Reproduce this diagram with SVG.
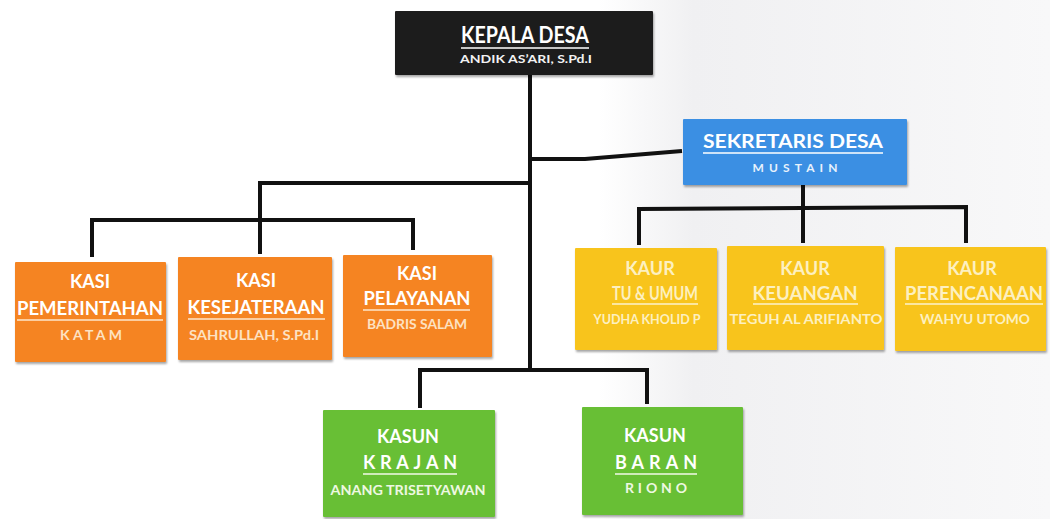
<svg xmlns="http://www.w3.org/2000/svg" width="1050" height="519" viewBox="0 0 1050 519">
<defs>
<filter id="sh" x="-5%" y="-5%" width="115%" height="120%">
<feDropShadow dx="1" dy="2" stdDeviation="1.2" flood-color="#000" flood-opacity="0.35"/>
</filter>
<linearGradient id="bg" x1="0" y1="0" x2="1" y2="0">
<stop offset="0" stop-color="#ffffff"/>
<stop offset="0.57" stop-color="#ffffff"/>
<stop offset="0.66" stop-color="#f0f0f2"/>
<stop offset="1" stop-color="#f8f8f9"/>
</linearGradient>
</defs>
<style>
text{font-family:Lato,"Liberation Sans",sans-serif;font-weight:bold;text-anchor:middle;}
.h1{font-size:22px;fill:#ffffff;}
.h2{font-size:19px;fill:#ffffff;}
.t{font-size:18px;fill:#ffffff;}
.s{font-size:12px;}
.m{font-size:14px;}
.ul{stroke-width:1.6;}
.conn{fill:none;stroke:#111;stroke-width:4;stroke-linejoin:miter;stroke-linecap:butt;}
.box{filter:url(#sh);}
.or{fill:#f58424;}
.ye{fill:#f8c41c;}
.gr{fill:#67bf34;}
.os{fill:#fde2c2;}
.ys{fill:#fdf0c0;}
.gs{fill:#eef8e2;}
.ow{stroke:#fde7cc;}
.yw{stroke:#fdf3cc;}
.gw{stroke:#f2fae8;}
</style>
<rect x="0" y="0" width="1050" height="519" fill="url(#bg)"/>

<g id="connectors">
<path class="conn" d="M530 75 V370"/>
<path class="conn" d="M530 159 L585 159 L682 151"/>
<path class="conn" d="M530 183 H260 V254"/>
<path class="conn" d="M92 257 V220 H413 V250"/>
<path class="conn" d="M803 185 V243"/>
<path class="conn" d="M639 245 V209 L966 207 V243"/>
<path class="conn" d="M420 408 V370 H647 V404"/>
</g>

<g id="kepala-desa">
<rect class="box" x="395" y="11" width="258" height="64" rx="1" fill="#1f1b1b"/>
<text class="h1" x="525" y="43" textLength="128" lengthAdjust="spacingAndGlyphs">KEPALA DESA</text>
<line class="ul" x1="461" y1="48" x2="589" y2="48" stroke="#ffffff"/>
<text class="s" x="526" y="63" fill="#f2f2f2" textLength="132" lengthAdjust="spacingAndGlyphs">ANDIK AS’ARI, S.Pd.I</text>
</g>

<g id="sekretaris-desa">
<rect class="box" x="683" y="119" width="224" height="66" rx="1" fill="#3b8fe3"/>
<text class="h2" x="793" y="148" textLength="180" lengthAdjust="spacingAndGlyphs">SEKRETARIS DESA</text>
<line class="ul" x1="703" y1="153" x2="883" y2="153" stroke="#ffffff"/>
<text class="s" x="795" y="172" fill="#e8f2fc" textLength="85" lengthAdjust="spacing">MUSTAIN</text>
</g>

<g id="kasi-pemerintahan">
<rect class="box or" x="15" y="262" width="151" height="100" rx="1"/>
<text class="t" x="90" y="288">KASI</text>
<text class="t" x="90" y="315" textLength="146" lengthAdjust="spacingAndGlyphs">PEMERINTAHAN</text>
<line class="ul ow" x1="17" y1="320" x2="163" y2="320"/>
<text class="m os" x="91" y="340" textLength="62" lengthAdjust="spacing">KATAM</text>
</g>

<g id="kasi-kesejateraan">
<rect class="box or" x="178" y="257" width="154" height="103" rx="1"/>
<text class="t" x="256" y="287">KASI</text>
<text class="t" x="256" y="314" textLength="137" lengthAdjust="spacingAndGlyphs">KESEJATERAAN</text>
<line class="ul ow" x1="188" y1="319" x2="325" y2="319"/>
<text class="m os" x="254" y="340" textLength="130" lengthAdjust="spacingAndGlyphs">SAHRULLAH, S.Pd.I</text>
</g>

<g id="kasi-pelayanan">
<rect class="box or" x="343" y="255" width="149" height="102" rx="1"/>
<text class="t" x="417" y="280">KASI</text>
<text class="t" x="417" y="305" textLength="107" lengthAdjust="spacingAndGlyphs">PELAYANAN</text>
<line class="ul ow" x1="363" y1="310" x2="470" y2="310"/>
<text class="m os" x="417" y="329" textLength="100" lengthAdjust="spacingAndGlyphs">BADRIS SALAM</text>
</g>

<g id="kaur-tu-umum">
<rect class="box ye" x="575" y="248" width="142" height="102" rx="1"/>
<text class="t ys" x="650" y="275">KAUR</text>
<text class="t ys" x="655" y="300" textLength="86" lengthAdjust="spacingAndGlyphs">TU &amp; UMUM</text>
<line class="ul yw" x1="612" y1="304" x2="698" y2="304"/>
<text class="m ys" x="647" y="324" textLength="107" lengthAdjust="spacingAndGlyphs">YUDHA KHOLID P</text>
</g>

<g id="kaur-keuangan">
<rect class="box ye" x="727" y="246" width="157" height="104" rx="1"/>
<text class="t ys" x="805" y="275">KAUR</text>
<text class="t ys" x="805" y="300" textLength="105" lengthAdjust="spacingAndGlyphs">KEUANGAN</text>
<line class="ul yw" x1="753" y1="304" x2="858" y2="304"/>
<text class="m ys" x="806" y="324" textLength="153" lengthAdjust="spacingAndGlyphs">TEGUH AL ARIFIANTO</text>
</g>

<g id="kaur-perencanaan">
<rect class="box ye" x="895" y="247" width="151" height="104" rx="1"/>
<text class="t ys" x="972" y="275">KAUR</text>
<text class="t ys" x="974" y="300" textLength="138" lengthAdjust="spacingAndGlyphs">PERENCANAAN</text>
<line class="ul yw" x1="905" y1="304" x2="1043" y2="304"/>
<text class="m ys" x="975" y="324" textLength="110" lengthAdjust="spacingAndGlyphs">WAHYU UTOMO</text>
</g>

<g id="kasun-krajan">
<rect class="box gr" x="323" y="410" width="172" height="107" rx="1"/>
<text class="t" x="408" y="443">KASUN</text>
<text class="t" x="410" y="469" textLength="94" lengthAdjust="spacing">KRAJAN</text>
<line class="ul gw" x1="363" y1="474" x2="457" y2="474"/>
<text class="m gs" x="408" y="495" textLength="155" lengthAdjust="spacingAndGlyphs">ANANG TRISETYAWAN</text>
</g>

<g id="kasun-baran">
<rect class="box gr" x="582" y="407" width="161" height="108" rx="1"/>
<text class="t" x="655" y="442">KASUN</text>
<text class="t" x="656" y="469" textLength="82" lengthAdjust="spacing">BARAN</text>
<line class="ul gw" x1="615" y1="474" x2="697" y2="474"/>
<text class="m gs" x="656" y="493" textLength="62" lengthAdjust="spacing">RIONO</text>
</g>
</svg>
